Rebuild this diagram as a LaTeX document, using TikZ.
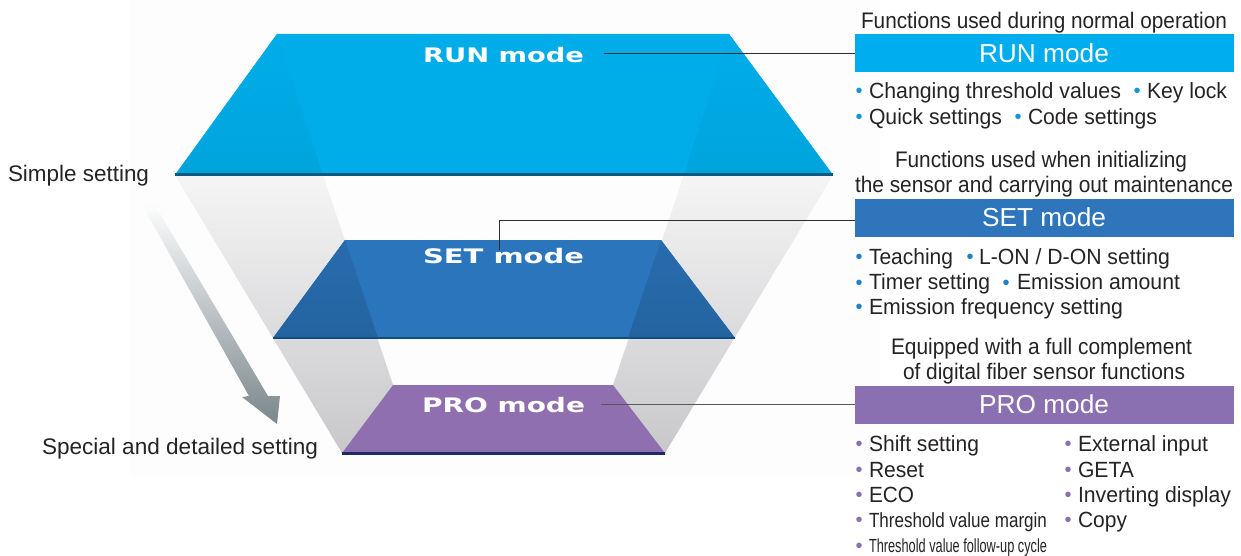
\documentclass[tikz,border=0pt]{standalone}
\usepackage{fontspec}
\usepackage{graphicx}
\setmainfont{Liberation Sans}
\newfontfamily\logofont{DejaVu Sans}
\definecolor{ink}{HTML}{262324}
\definecolor{runc}{HTML}{00ADE9}
\definecolor{rund}{HTML}{00A4DC}
\definecolor{setc}{HTML}{2B75BD}
\definecolor{setda}{HTML}{286CAE}
\definecolor{setdb}{HTML}{2463A0}
\definecolor{proc}{HTML}{8F6FAF}
\definecolor{runk}{HTML}{00AEEF}
\definecolor{setk}{HTML}{2E75BB}
\definecolor{prok}{HTML}{8A6FB1}
\definecolor{runl}{HTML}{0A5A80}
\definecolor{setl}{HTML}{0D4F80}
\definecolor{prol}{HTML}{1E2A66}
\definecolor{runb}{HTML}{1296D6}
\definecolor{setb}{HTML}{1F7FC8}
\definecolor{arrowc}{HTML}{7B878C}
\definecolor{wash}{HTML}{FDFDFE}
\definecolor{wire}{HTML}{2E2E30}
\definecolor{bandtop}{HTML}{F5F5F6}
\definecolor{bandbot}{HTML}{C8C8CA}
\newcommand\fitw[2]{\resizebox{#1pt}{\height}{#2}}
\tikzset{
  lbl/.style={anchor=base west,inner sep=0pt,outer sep=0pt,text=ink,yshift=-0.4pt,font=\fontsize{22}{24}\selectfont},
  small/.style={lbl,font=\fontsize{20.5}{24}\selectfont},
  tiny/.style={lbl,font=\fontsize{19}{24}\selectfont},
  head/.style={lbl,yshift=-0.5pt,font=\fontsize{22.5}{24}\selectfont},
  bul/.style={anchor=base,inner sep=0pt,outer sep=0pt,font=\fontsize{20}{24}\selectfont},
  boxk/.style={rectangle,inner sep=0pt,outer sep=0pt,minimum width=379pt,minimum height=38pt,anchor=north west},
  boxt/.style={anchor=base west,inner sep=0pt,outer sep=0pt,text=white,yshift=-0.4pt,font=\fontsize{26}{28}\selectfont},
  logo/.style={anchor=base west,inner sep=0pt,outer sep=0pt,text=white,yshift=-1.2pt,font=\logofont\bfseries\fontsize{20}{20}\selectfont},
  bandgray/.style={top color=bandtop,bottom color=bandbot},
  runover/.style={top color=runc,bottom color=rund},
  setover/.style={top color=setda,bottom color=setdb},
  wirel/.style={draw=wire,line width=1pt}
}
\begin{document}
\begin{tikzpicture}[x=1pt,y=-1pt]
\useasboundingbox (0,0) rectangle (1241,556);
\fill[white] (0,0) rectangle (1241,556);
\fill[wash] (130,0) rectangle (880,476);
% shadow bands
\shade[bandgray] (175,175) -- (323,175) -- (393,385) -- (342,453) -- cycle;
\shade[bandgray] (833,175) -- (684,175) -- (613,385) -- (665,453) -- cycle;
% RUN plane with the faint band running through it
\fill[runc] (277,34) -- (729,34) -- (833,175) -- (175,175) -- cycle;
\shade[runover] (277,34) -- (175,175) -- (323,175) -- cycle;
\shade[runover] (729,34) -- (833,175) -- (684,175) -- cycle;
\fill[runl] (175,173.5) rectangle (833,176);
% SET plane with the band running through it
\fill[setc] (345,240) -- (661,240) -- (735,338) -- (273,338) -- cycle;
\shade[setover] (345,240) -- (273,338) -- (378,338) -- cycle;
\shade[setover] (661,240) -- (735,338) -- (628,338) -- cycle;
\fill[setl] (273,336.5) rectangle (735,339);
% PRO plane
\fill[proc] (393,385) -- (613,385) -- (665,453) -- (342,453) -- cycle;
\fill[prol] (342,452) rectangle (665,454.5);
% trend arrow
\shade[top color=white,bottom color=arrowc]
  (141,203) -- (152,200) -- (268,396) -- (280,396) -- (277,424) -- (242,397) -- (249,396) -- cycle;
% logos
\node[logo] (runlogo) at (423,61) {\fitw{161}{RUN mode}};
\node[logo] (setlogo) at (423,262) {\fitw{161}{SET mode}};
\node[logo] (prologo) at (422,411) {\fitw{163}{PRO mode}};
% mode boxes
\node[boxk,fill=runk] (runbox) at (855,34) {};
\node[boxk,fill=setk] (setbox) at (855,199) {};
\node[boxk,fill=prok] (probox) at (855,386) {};
\node[boxt] (runt) at (979,62) {\fitw{130}{RUN mode}};
\node[boxt] (sett) at (982,226) {\fitw{124}{SET mode}};
\node[boxt] (prot) at (979,413) {\fitw{130}{PRO mode}};
% connectors
\coordinate (runs) at (604,53.5);
\coordinate (sets) at (499,250);
\coordinate (setc1) at (499,220);
\coordinate (pros) at (601,404);
\draw[wirel] (runs) -- (runs -| runbox.west);
\draw[wirel] (sets) -- (setc1) -- (setc1 -| setbox.west);
\draw[wirel,draw=wire!80] (pros) -- (pros -| probox.west);
% left texts
\node[head] (simple) at (8,181) {\fitw{141}{Simple setting}};
\node[head] (special) at (42,454) {\fitw{276}{Special and detailed setting}};
% RUN texts
\node[head] (runh) at (861,28) {\fitw{366}{Functions used during normal operation}};
\node[bul,text=runb] (b1) at (859,98) {•};
\node[lbl] (r1) at (869,98.5) {\fitw{252}{Changing threshold values}};
\node[bul,text=runb] (b2) at (1137,98) {•};
\node[lbl] (r2) at (1147,98.5) {\fitw{80}{Key lock}};
\node[bul,text=runb] (b3) at (859,124) {•};
\node[lbl] (r3) at (869,124.5) {\fitw{133}{Quick settings}};
\node[bul,text=runb] (b4) at (1018,124) {•};
\node[lbl] (r4) at (1028,124.5) {\fitw{129}{Code settings}};
% SET texts
\node[head] (seth1) at (895,167) {\fitw{292}{Functions used when initializing}};
\node[head] (seth2) at (855,192) {\fitw{378}{the sensor and carrying out maintenance}};
\node[bul,text=setb] (b5) at (859,263.5) {•};
\node[lbl] (s1) at (869,264) {\fitw{84}{Teaching}};
\node[bul,text=setb] (b6) at (970,263.5) {•};
\node[lbl] (s2) at (979,264) {\fitw{191}{L-ON / D-ON setting}};
\node[bul,text=setb] (b7) at (859,289) {•};
\node[lbl] (s3) at (869,289.5) {\fitw{121}{Timer setting}};
\node[bul,text=setb] (b8) at (1006,289) {•};
\node[lbl] (s4) at (1017,289.5) {\fitw{163}{Emission amount}};
\node[bul,text=setb] (b9) at (859,313.5) {•};
\node[lbl] (s5) at (869,314) {\fitw{254}{Emission frequency setting}};
% PRO texts
\node[head] (proh1) at (891,354) {\fitw{301}{Equipped with a full complement}};
\node[head] (proh2) at (903,379) {\fitw{282}{of digital fiber sensor functions}};
\node[bul,text=prok] (c1) at (859,450.5) {•};
\node[lbl] (p1) at (869,451) {\fitw{110}{Shift setting}};
\node[bul,text=prok] (c2) at (859,476.5) {•};
\node[lbl] (p2) at (869,477) {\fitw{55}{Reset}};
\node[bul,text=prok] (c3) at (859,501.5) {•};
\node[lbl] (p3) at (869,502) {\fitw{45}{ECO}};
\node[bul,text=prok] (c4) at (859,526.5) {•};
\node[small] (p4) at (869,527) {\fitw{178}{Threshold value margin}};
\node[bul,text=prok] (c5) at (859,552) {•};
\node[tiny] (p5) at (869,552.5) {\fitw{178}{Threshold value follow-up cycle}};
\node[bul,text=prok] (c6) at (1068,450.5) {•};
\node[lbl] (q1) at (1078,451) {\fitw{130}{External input}};
\node[bul,text=prok] (c7) at (1068,476.5) {•};
\node[lbl] (q2) at (1078,477) {\fitw{56}{GETA}};
\node[bul,text=prok] (c8) at (1068,501.5) {•};
\node[lbl] (q3) at (1078,502) {\fitw{153}{Inverting display}};
\node[bul,text=prok] (c9) at (1068,526.5) {•};
\node[lbl] (q4) at (1078,527) {\fitw{49}{Copy}};
\end{tikzpicture}
\end{document}
